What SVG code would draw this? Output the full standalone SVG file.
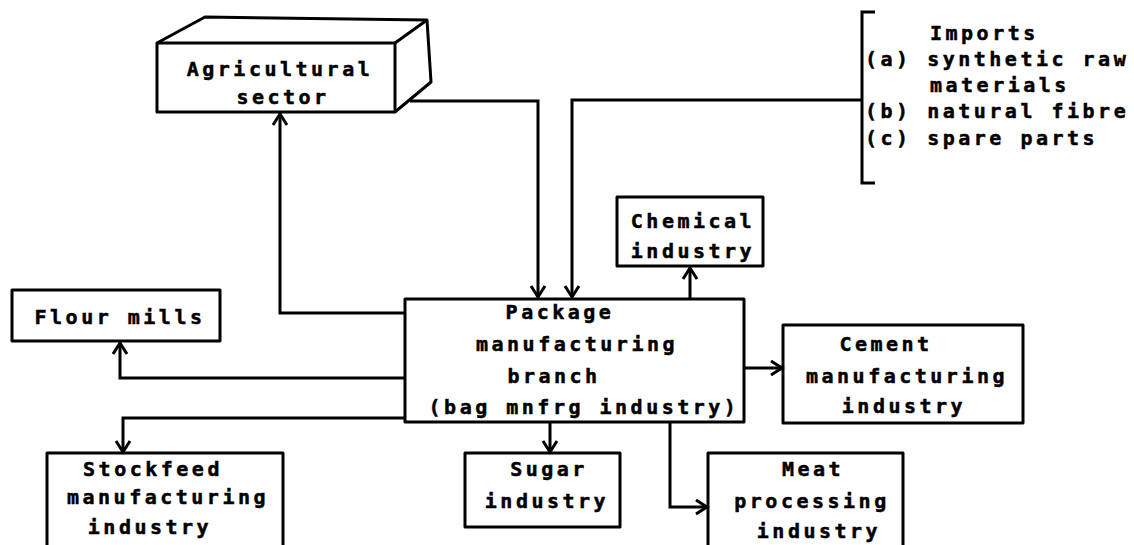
<svg xmlns="http://www.w3.org/2000/svg" width="1134" height="545" viewBox="0 0 1134 545">
<style>
.box{fill:none;stroke:#000;stroke-width:3;stroke-linejoin:round}
.ln{fill:none;stroke:#000;stroke-width:3;stroke-linejoin:miter}
.t{font-family:"DejaVu Sans Mono","Liberation Mono",monospace;font-weight:bold;font-size:20px;letter-spacing:3.5px;fill:#000;stroke:#000;stroke-width:0.5px}
.m{text-anchor:middle}
</style>
<defs>
<marker id="ah" viewBox="0 0 20 20" refX="17" refY="10" markerWidth="20" markerHeight="20" markerUnits="userSpaceOnUse" orient="auto">
<path d="M6,3 L17,10 L6,17" fill="none" stroke="#000" stroke-width="3"/>
</marker>
</defs>
<rect x="0" y="0" width="1134" height="545" fill="#fff"/>
<g id="connectors">
<path class="ln" d="M410,101 H538 V297" marker-end="url(#ah)"/>
<path class="ln" d="M862,100 H572 V297" marker-end="url(#ah)"/>
<path class="ln" d="M405,313 H280 V114" marker-end="url(#ah)"/>
<path class="ln" d="M690,298 V268" marker-end="url(#ah)"/>
<path class="ln" d="M405,378 H120 V343" marker-end="url(#ah)"/>
<path class="ln" d="M405,418 H123 V452" marker-end="url(#ah)"/>
<path class="ln" d="M550,422 V452" marker-end="url(#ah)"/>
<path class="ln" d="M670,422 V507 H707" marker-end="url(#ah)"/>
<path class="ln" d="M745,368 H782" marker-end="url(#ah)"/>
</g>
<g id="agricultural">
<rect class="box" x="157" y="43" width="238" height="69"/>
<path class="box" d="M157,43 L205,17 L427,20 L395,43 M427,20 L431,82 L395,112"/>
<text class="t m" x="280" y="76">Agricultural</text>
<text class="t m" x="283" y="104">sector</text>
</g>
<g id="imports">
<path class="ln" d="M875,12 H862 V183 H875"/>
<text class="t" x="930" y="40">Imports</text>
<text class="t" x="865" y="66">(a) synthetic raw</text>
<text class="t" x="930" y="92">materials</text>
<text class="t" x="865" y="118">(b) natural fibre</text>
<text class="t" x="865" y="145">(c) spare parts</text>
</g>
<g id="chemical">
<rect class="box" x="617" y="197" width="146" height="69"/>
<text class="t m" x="693" y="228">Chemical</text>
<text class="t m" x="693" y="258">industry</text>
</g>
<g id="package">
<rect class="box" x="405" y="299" width="339" height="123"/>
<text class="t m" x="560" y="319">Package</text>
<text class="t m" x="577" y="351">manufacturing</text>
<text class="t m" x="554" y="383">branch</text>
<text class="t m" x="584" y="414">(bag mnfrg industry)</text>
</g>
<g id="flour">
<rect class="box" x="12" y="290" width="208" height="51"/>
<text class="t m" x="120" y="324">Flour mills</text>
</g>
<g id="cement">
<rect class="box" x="783" y="325" width="240" height="98"/>
<text class="t m" x="886" y="351">Cement</text>
<text class="t m" x="907" y="383">manufacturing</text>
<text class="t m" x="904" y="413">industry</text>
</g>
<g id="stockfeed">
<rect class="box" x="47" y="453" width="236" height="100"/>
<text class="t m" x="153" y="476">Stockfeed</text>
<text class="t m" x="168" y="504">manufacturing</text>
<text class="t m" x="150" y="534">industry</text>
</g>
<g id="sugar">
<rect class="box" x="465" y="453" width="155" height="74"/>
<text class="t m" x="549" y="476">Sugar</text>
<text class="t m" x="547" y="508">industry</text>
</g>
<g id="meat">
<rect class="box" x="708" y="453" width="195" height="100"/>
<text class="t m" x="813" y="476">Meat</text>
<text class="t m" x="812" y="508">processing</text>
<text class="t m" x="819" y="538">industry</text>
</g>
</svg>
